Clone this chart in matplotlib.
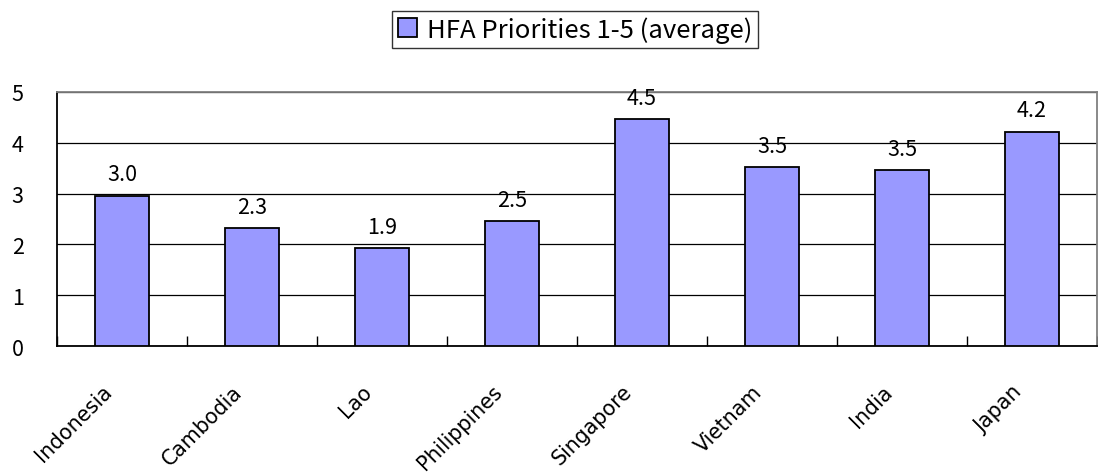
import matplotlib
matplotlib.use("Agg")
import matplotlib.pyplot as plt
import matplotlib.transforms as mtransforms
import numpy as np

countries = ["Indonesia", "Cambodia", "Lao", "Philippines",
             "Singapore", "Vietnam", "India", "Japan"]
priority_avg = [2.96, 2.32, 1.92, 2.46, 4.46, 3.52, 3.46, 4.22]
series_label = "HFA Priorities 1-5 (average)"

plt.rcParams["font.family"] = ["Noto Sans CJK JP", "DejaVu Sans"]

fig = plt.figure(figsize=(10.98, 4.77), dpi=100)
ax = fig.add_axes([57 / 1098, 1 - 347 / 477, 1040 / 1098, 254 / 477])

x = np.arange(len(countries))
bars = ax.bar(x, priority_avg, width=0.41, color="#9999FF",
              edgecolor="black", linewidth=1.3, label=series_label, zorder=3)

for xi, v in zip(x, priority_avg):
    ax.text(xi, v + 0.2, f"{v:.1f}", ha="center", va="bottom",
            fontsize=15.5, zorder=4)

ax.set_xlim(-0.5, len(countries) - 0.5)
ax.set_ylim(0, 5)
ax.set_yticks(range(6))
ax.yaxis.grid(True, color="black", linewidth=0.9, zorder=1)
ax.tick_params(axis="y", length=0, pad=24, labelsize=15.5)

ax.set_xticks(x)
ax.set_xticklabels(countries, rotation=45, ha="right", va="center",
                   rotation_mode="anchor", fontsize=14.8, family="DejaVu Sans")
ax.tick_params(axis="x", which="major", length=0, pad=0)
ax.set_xticks(np.arange(len(countries) + 1) - 0.5, minor=True)
ax.tick_params(axis="x", which="minor", direction="in", length=7,
               width=1, color="black")
offset = mtransforms.ScaledTranslation(-0.13, -0.42, fig.dpi_scale_trans)
for lab in ax.get_xticklabels():
    lab.set_transform(lab.get_transform() + offset)

ax.spines["top"].set_color("#808080")
ax.spines["right"].set_color("#808080")
ax.spines["left"].set_color("black")
ax.spines["bottom"].set_color("black")
for s in ax.spines.values():
    s.set_linewidth(1.3)

leg = fig.legend(handles=[bars], labels=[series_label], loc="upper center",
                 bbox_to_anchor=(575 / 1098, 1 - 12 / 477), fontsize=18.5,
                 frameon=True, fancybox=False, handlelength=0.75,
                 handleheight=0.75, handletextpad=0.4, borderpad=0.2,
                 borderaxespad=0)
leg.get_frame().set_edgecolor("black")
leg.get_frame().set_linewidth(1.0)

fig.savefig("out.png", dpi=100)
